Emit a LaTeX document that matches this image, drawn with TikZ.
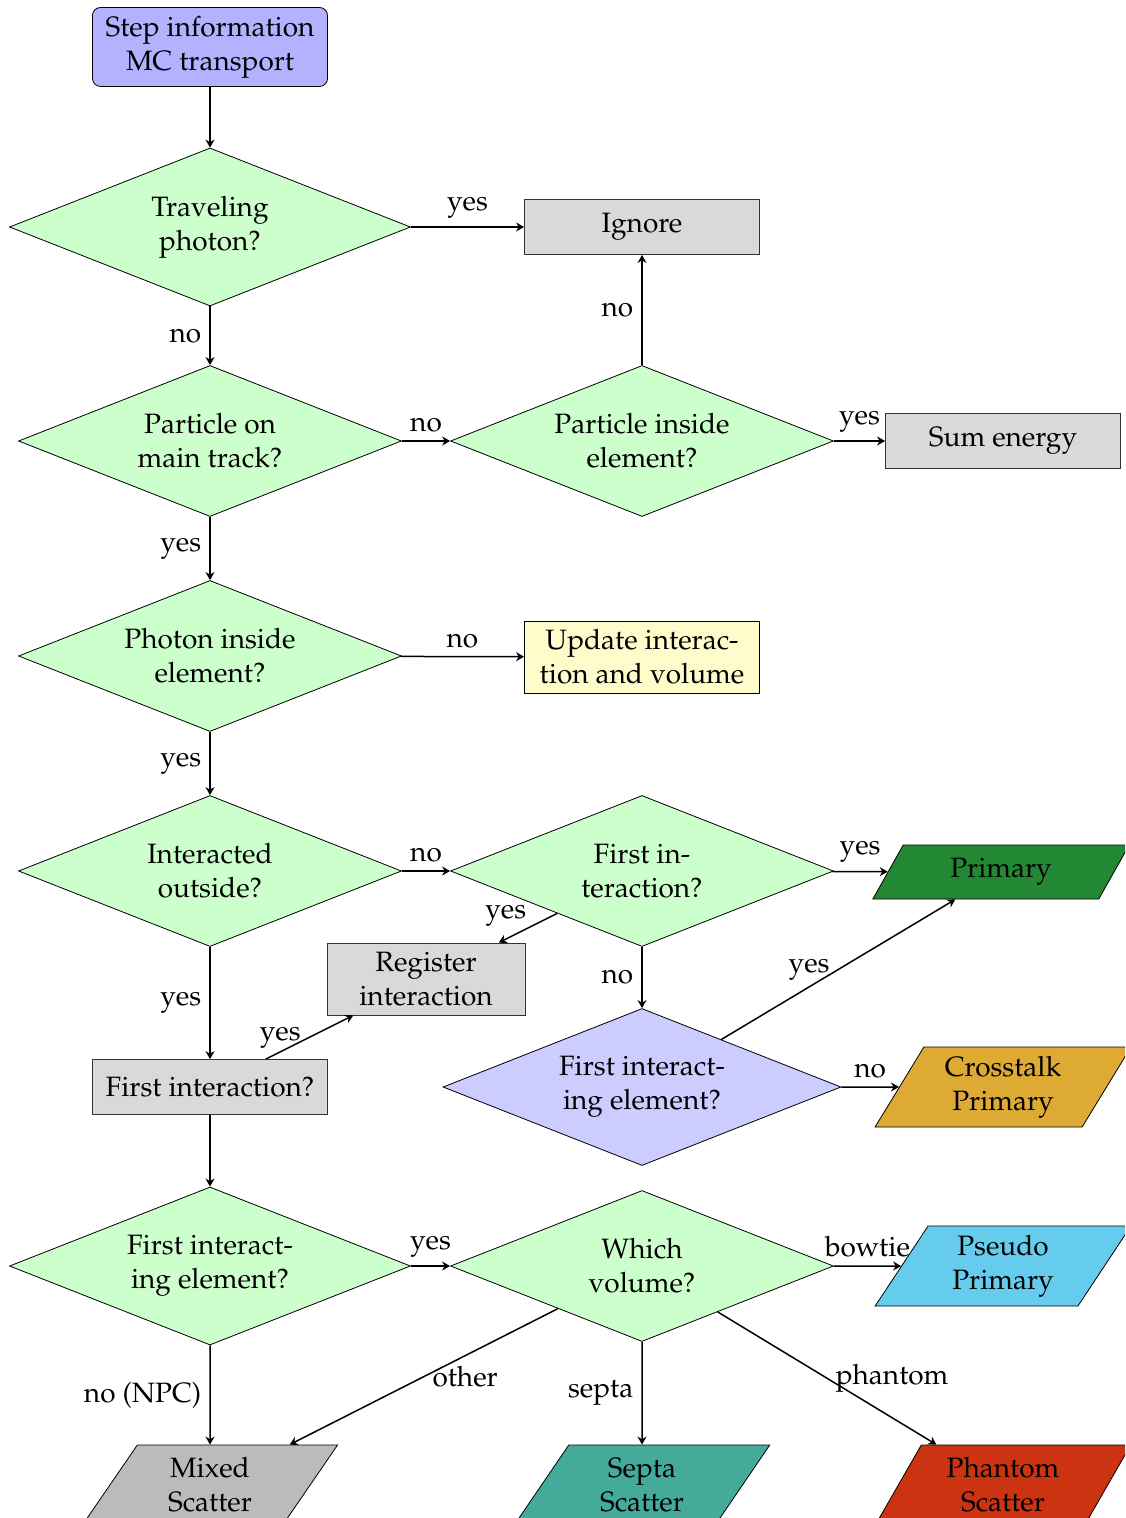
\documentclass[tikz,border=0pt]{standalone}
\usepackage[T1]{fontenc}
\usepackage{mathpazo}
\usetikzlibrary{shapes.geometric,arrows.meta}
\definecolor{cprimary}{HTML}{228833}
\definecolor{ccross}{HTML}{DDAA33}
\definecolor{cpseudo}{HTML}{66CCEE}
\definecolor{cmixed}{HTML}{BBBBBB}
\definecolor{csepta}{HTML}{44AA99}
\definecolor{cphantom}{HTML}{CC3311}
\begin{document}
\begin{tikzpicture}[x=0.5pt,y=-0.5pt,
  every node/.style={font=\fontsize{14}{17}\selectfont},
  startbox/.style={rectangle, rounded corners=4pt, draw, fill=blue!30, align=center, inner sep=0pt, minimum width=117.5pt, minimum height=39.5pt, line width=0.4pt},
  dec/.style={diamond, draw, fill=green!20, aspect=2.5, inner sep=0pt, align=center, minimum width=191.5pt, minimum height=75.5pt, line width=0.4pt},
  bigdec/.style={dec, minimum width=200.5pt, minimum height=79pt},
  graybox/.style={rectangle, draw=black!80, fill=gray!30, align=center, inner sep=0pt, minimum width=117.5pt, minimum height=27.5pt, line width=0.4pt},
  updbox/.style={rectangle, draw, fill=yellow!20, align=center, inner sep=0pt, minimum width=117.5pt, minimum height=36pt, line width=0.4pt},
  para/.style={trapezium, trapezium left angle=60, trapezium right angle=120, trapezium stretches=true, draw, align=center, inner sep=0pt, minimum width=128.5pt, minimum height=40pt, line width=0.4pt},
  arr/.style={-{Stealth[length=4pt,width=4.5pt,inset=1.3pt]}, line width=0.75pt},
  lab/.style={inner sep=4pt}
]
\useasboundingbox (0,0) rectangle (1125,1518);
\clip (0,0) rectangle (1125,1518);

\node[startbox] (start) at (210,47) {Step information\\MC transport};
\node[bigdec] (d1) at (210,227) {Traveling\\photon?};
\node[graybox] (ignore) at (642,227) {Ignore};
\node[dec] (d2) at (210,441) {Particle on\\main track?};
\node[dec] (d3) at (642,441) {Particle inside\\element?};
\node[graybox] (sum) at (1003,441) {Sum energy};
\node[dec] (d4) at (210,656) {Photon inside\\element?};
\node[updbox] (upd) at (642,657) {Update interac-\\tion and volume};
\node[dec] (d5) at (210,871) {Interacted\\outside?};
\node[dec] (d6) at (642,871) {First in-\\teraction?};
\node[para, fill=cprimary, minimum height=27pt] (prim) at (1001,872) {Primary};
\node[graybox, minimum width=99pt, minimum height=36pt] (reg) at (426,979) {Register\\interaction};
\node[dec, fill=blue!20, minimum width=199pt, minimum height=78.5pt] (d7) at (642,1087) {First interact-\\ing element?};
\node[para, fill=ccross] (cross) at (1003,1087) {Crosstalk\\Primary};
\node[graybox] (fi) at (210,1087) {First interaction?};
\node[bigdec] (d8) at (210,1266) {First interact-\\ing element?};
\node[dec] (d9) at (642,1266) {Which\\volume?};
\node[para, fill=cpseudo] (pseudo) at (1003,1266) {Pseudo\\Primary};
\node[para, fill=cmixed] (mixed) at (210,1485) {Mixed\\Scatter};
\node[para, fill=csepta] (septa) at (642,1485) {Septa\\Scatter};
\node[para, fill=cphantom] (phantom) at (1003,1485) {Phantom\\Scatter};

\draw[arr] (start) -- (d1);
\draw[arr] (d1) -- node[lab, above] {yes} (ignore);
\draw[arr] (d1) -- node[lab, left] {no} (d2);
\draw[arr] (d2) -- node[lab, above] {no} (d3);
\draw[arr] (d3) -- node[lab, left] {no} (ignore);
\draw[arr] (d3) -- node[lab, above] {yes} (sum);
\draw[arr] (d2) -- node[lab, left] {yes} (d4);
\draw[arr] (d4) -- node[lab, above] {no} (upd);
\draw[arr] (d4) -- node[lab, left] {yes} (d5);
\draw[arr] (d5) -- node[lab, above] {no} (d6);
\draw[arr] (d6) -- node[lab, above] {yes} (prim);
\draw[arr] (d6) -- node[lab, above left, inner sep=0.5pt] {yes} (reg);
\draw[arr] (d6) -- node[lab, left] {no} (d7);
\draw[arr] (d7) -- node[lab, left] {yes} (prim);
\draw[arr] (d7) -- node[lab, above] {no} (cross);
\draw[arr] (d5) -- node[lab, left] {yes} (fi);
\draw[arr] (fi) -- node[lab, left] {yes} (reg);
\draw[arr] (fi) -- (d8);
\draw[arr] (d8) -- node[lab, above] {yes} (d9);
\draw[arr] (d9) -- node[lab, above] {bowtie} (pseudo);
\draw[arr] (d8) -- node[lab, left] {no (NPC)} (mixed);
\draw[arr] (d9) -- node[lab, right] {other} (mixed);
\draw[arr] (d9) -- node[lab, left] {septa} (septa);
\draw[arr] (d9) -- node[lab, right] {phantom} (phantom);
\end{tikzpicture}
\end{document}
